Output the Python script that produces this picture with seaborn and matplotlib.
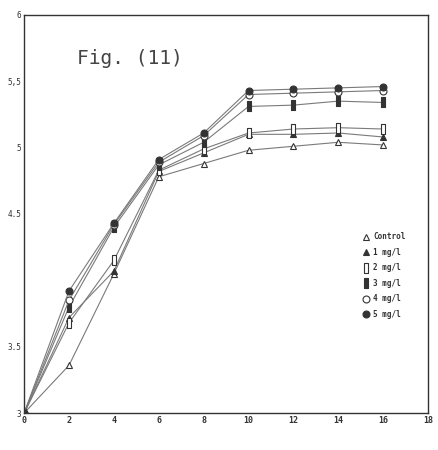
import matplotlib
matplotlib.use("Agg")
import matplotlib.pyplot as plt
from matplotlib.lines import Line2D
import seaborn as sns
import pandas as pd

days = [0, 2, 4, 6, 8, 10, 12, 14, 16]
control = [3.00, 3.36, 4.05, 4.78, 4.88, 4.98, 5.01, 5.04, 5.02]
mg1 = [3.00, 3.72, 4.07, 4.82, 4.96, 5.10, 5.10, 5.11, 5.08]
mg2 = [3.00, 3.68, 4.15, 4.83, 4.99, 5.11, 5.14, 5.15, 5.14]
mg3 = [3.00, 3.80, 4.40, 4.87, 5.04, 5.31, 5.32, 5.35, 5.34]
mg4 = [3.00, 3.85, 4.42, 4.89, 5.09, 5.40, 5.41, 5.42, 5.43]
mg5 = [3.00, 3.92, 4.43, 4.91, 5.11, 5.43, 5.44, 5.45, 5.46]
series_names = ["Control", "1 mg/l", "2 mg/l", "3 mg/l", "4 mg/l", "5 mg/l"]
y_ticks = [3, 3.5, 4.5, 5, 5.5, 6]
y_tick_labels = ["3", "3.5", "4.5", "5", "5,5", "6"]
x_ticks = [0, 2, 4, 6, 8, 10, 12, 14, 16, 18]

sns.set_theme(style="white")
plt.rcParams['font.family'] = ['DejaVu Sans Mono', 'DejaVu Sans']

fig = plt.figure(figsize=(4.39, 4.50), dpi=100)
ax = fig.add_axes([0.055, 0.082, 0.92, 0.885])

tall_rect = [(-0.4, -1), (0.4, -1), (0.4, 1), (-0.4, 1), (-0.4, -1)]
styles = [
    dict(marker='^', mfc='white', ms=5),
    dict(marker='^', mfc='#333333', ms=5),
    dict(marker=tall_rect, mfc='white', ms=6.5),
    dict(marker=tall_rect, mfc='#333333', ms=6.5),
    dict(marker='o', mfc='white', ms=5),
    dict(marker='o', mfc='#333333', ms=5),
]
all_vals = [control, mg1, mg2, mg3, mg4, mg5]
proxies = []
for name, vals, st in zip(series_names, all_vals, styles):
    df = pd.DataFrame({"day": days, "val": vals})
    sns.lineplot(data=df, x="day", y="val", ax=ax, color='#7a7a7a', lw=0.8,
                 marker=st['marker'], mfc=st['mfc'], mec='#333333', mew=0.8,
                 ms=st['ms'])
    proxies.append(Line2D([], [], linestyle='none', marker=st['marker'],
                          mfc=st['mfc'], mec='#333333', mew=0.8, ms=st['ms']))

ax.set_xlim(0, 18)
ax.set_ylim(3, 6)
ax.set_xticks(x_ticks)
ax.set_xticklabels([str(t) for t in x_ticks], fontsize=6, fontweight='bold', color='#333333')
ax.set_yticks(y_ticks)
ax.set_yticklabels(y_tick_labels, fontsize=5.5, color='#333333')
ax.tick_params(axis='both', direction='in', length=3, width=0.8, color='#333333', pad=2)
ax.set_xlabel("")
ax.set_ylabel("")
for s in ax.spines.values():
    s.set_color('#333333')
    s.set_linewidth(1.0)

ax.text(0.13, 0.89, "Fig. (11)", transform=ax.transAxes, fontsize=14,
        color='#444444', va='center', ha='left')

leg = ax.legend(proxies, series_names, loc='center left', bbox_to_anchor=(0.82, 0.345),
                frameon=False, fontsize=5.5, handletextpad=0.4, labelspacing=0.85,
                handlelength=1.0)
for t in leg.get_texts():
    t.set_color('#333333')
    t.set_fontweight('bold')

fig.savefig("out.png", dpi=100, facecolor='white')
